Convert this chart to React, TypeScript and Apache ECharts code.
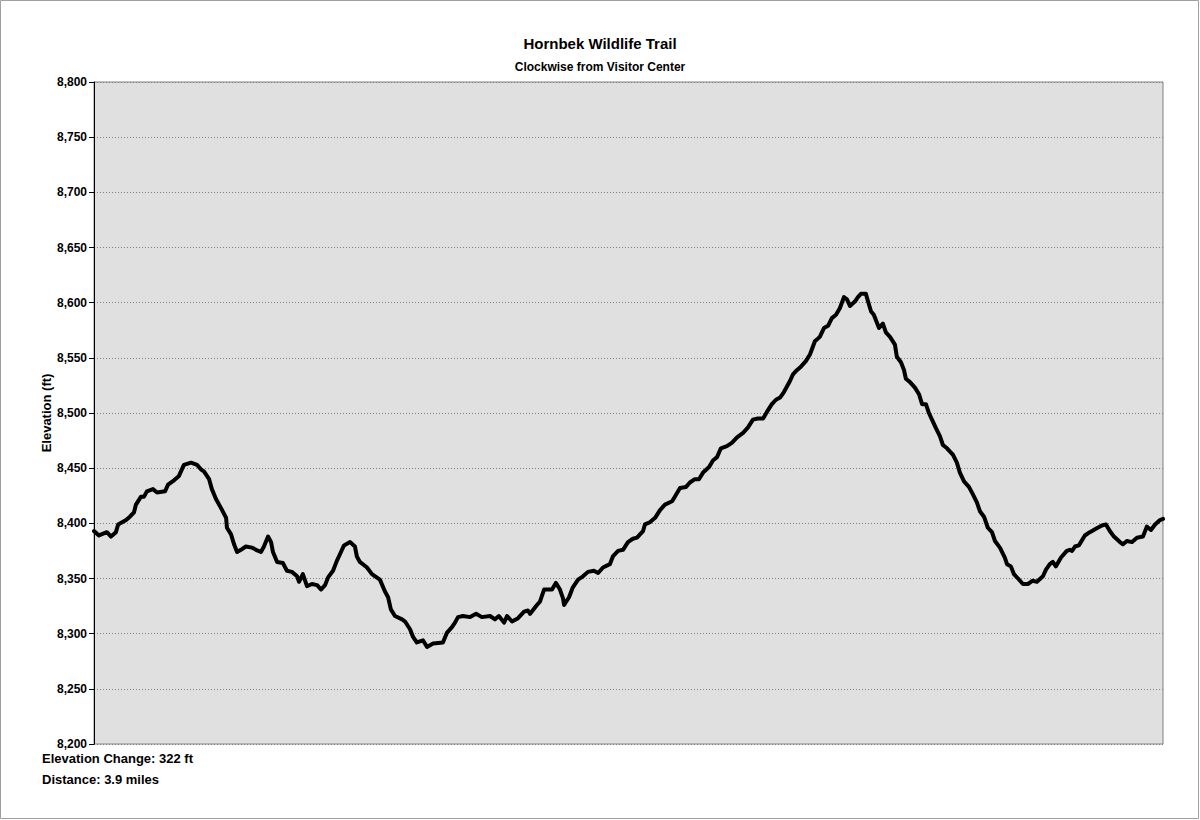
import React, { useEffect, useRef } from "react";
import * as echarts from "echarts";

const titleText = "Hornbek Wildlife Trail";
const subtitleText = "Clockwise from Visitor Center";
const yAxisName = "Elevation (ft)";
const footerLines = ["Elevation Change: 322 ft", "Distance: 3.9 miles"];
const yTicks = [8200, 8250, 8300, 8350, 8400, 8450, 8500, 8550, 8600, 8650, 8700, 8750, 8800];

// distance along trail (miles)
const distance = [
  0.0, 0.018, 0.047, 0.062, 0.08, 0.088, 0.117, 0.131, 0.146, 0.153, 0.171, 0.182, 0.193, 0.215, 0.23, 0.259,
  0.27, 0.292, 0.31, 0.328, 0.354, 0.376, 0.39, 0.401, 0.42, 0.43, 0.445, 0.463, 0.482, 0.485, 0.5, 0.511,
  0.522, 0.536, 0.554, 0.576, 0.591, 0.609, 0.62, 0.635, 0.646, 0.653,
  0.668, 0.689, 0.704, 0.722, 0.741, 0.748, 0.762, 0.777, 0.795, 0.814, 0.828, 0.843, 0.854, 0.872, 0.886,
  0.901, 0.912, 0.934, 0.952, 0.959, 0.97, 0.996, 1.014, 1.043, 1.062, 1.073, 1.083, 1.098, 1.124, 1.135,
  1.153, 1.164, 1.178, 1.2, 1.215, 1.237, 1.273, 1.288, 1.306,
  1.317, 1.328, 1.346, 1.372, 1.394, 1.415, 1.445, 1.463, 1.477, 1.496, 1.507, 1.525, 1.547, 1.569, 1.583,
  1.591, 1.616, 1.627, 1.642, 1.671, 1.685, 1.7, 1.711, 1.715, 1.733, 1.747, 1.766, 1.784, 1.802, 1.824,
  1.839, 1.857, 1.882, 1.893, 1.912, 1.93, 1.948, 1.966, 1.981,
  2.003, 2.01, 2.028, 2.047, 2.065, 2.083, 2.109, 2.119, 2.138, 2.16, 2.174, 2.192, 2.207, 2.222, 2.244,
  2.258, 2.273, 2.287, 2.309, 2.327, 2.346, 2.368, 2.386, 2.404, 2.422, 2.441, 2.455, 2.473, 2.488, 2.503,
  2.517, 2.528, 2.539, 2.55, 2.561, 2.579, 2.597,
  2.612, 2.63, 2.648, 2.663, 2.678, 2.692, 2.707, 2.721, 2.736, 2.747, 2.758, 2.776, 2.787, 2.798, 2.816,
  2.824, 2.835, 2.845, 2.856, 2.864, 2.878, 2.889, 2.904, 2.922, 2.929, 2.944, 2.955, 2.962, 2.977, 2.995,
  3.01, 3.021, 3.035, 3.046, 3.061, 3.072, 3.086, 3.097, 3.112, 3.134, 3.148, 3.159, 3.174, 3.192, 3.207,
  3.221, 3.232, 3.247, 3.261, 3.276, 3.287, 3.305,
  3.323, 3.331, 3.345, 3.356, 3.371, 3.389, 3.407, 3.425, 3.44, 3.462, 3.473, 3.487, 3.498, 3.509, 3.528,
  3.549, 3.56, 3.568, 3.579, 3.593, 3.615, 3.633, 3.655, 3.677, 3.692, 3.706, 3.721, 3.743, 3.754, 3.768,
  3.787, 3.805, 3.827, 3.841, 3.856, 3.871, 3.889, 3.9,
];

// elevation (ft)
const elevation = [
  8393, 8389, 8392, 8388, 8392, 8399, 8403, 8406, 8410, 8417, 8424, 8424, 8429, 8431, 8428, 8429,
  8435, 8439, 8443, 8453, 8455, 8453, 8449, 8447, 8440, 8431, 8422, 8414, 8405, 8396, 8390, 8381,
  8374, 8376, 8379, 8378, 8376, 8374, 8379, 8388, 8383, 8374,
  8365, 8364, 8357, 8356, 8352, 8347, 8354, 8343, 8345, 8344, 8340, 8344, 8351, 8357, 8366,
  8374, 8380, 8383, 8379, 8370, 8365, 8360, 8354, 8349, 8338, 8333, 8322, 8316, 8313, 8311,
  8304, 8297, 8292, 8294, 8288, 8291, 8292, 8301, 8306,
  8310, 8315, 8316, 8315, 8318, 8315, 8316, 8313, 8316, 8310, 8316, 8311, 8314, 8320, 8321,
  8318, 8326, 8329, 8340, 8340, 8346, 8340, 8332, 8326, 8333, 8342, 8349, 8352, 8356, 8357,
  8355, 8360, 8363, 8370, 8375, 8376, 8383, 8386, 8387,
  8393, 8399, 8401, 8405, 8412, 8417, 8420, 8424, 8432, 8433, 8437, 8440, 8440, 8446, 8451,
  8457, 8460, 8468, 8470, 8473, 8478, 8482, 8487, 8494, 8495, 8495, 8501, 8508, 8512, 8514,
  8519, 8524, 8529, 8535, 8538, 8542, 8547,
  8553, 8565, 8569, 8577, 8579, 8586, 8589, 8595, 8605, 8603, 8597, 8601, 8605, 8608, 8608,
  8601, 8592, 8589, 8582, 8577, 8581, 8573, 8569, 8562, 8551, 8546, 8539, 8531, 8528, 8523,
  8517, 8508, 8508, 8500, 8492, 8486, 8479, 8471, 8468, 8462, 8455, 8446, 8438, 8433, 8426,
  8419, 8411, 8406, 8396, 8392, 8384, 8378,
  8369, 8363, 8361, 8354, 8350, 8345, 8345, 8348, 8347, 8352, 8358, 8363, 8365, 8361, 8369,
  8375, 8376, 8375, 8379, 8380, 8389, 8392, 8395, 8398, 8399, 8393, 8388, 8383, 8381, 8384,
  8383, 8387, 8388, 8397, 8394, 8399, 8403, 8404,
];

export default function App() {
  const ref = useRef<HTMLDivElement>(null);

  useEffect(() => {
    document.body.style.margin = "0";
    if (!ref.current) return;
    const chart = echarts.init(ref.current, undefined, { renderer: "svg" });
    const data = distance.map((d, i) => [d, elevation[i]]);
    const font = "Arial, 'Liberation Sans', sans-serif";
    chart.setOption({
      animation: false,
      backgroundColor: "#ffffff",
      grid: {
        left: 94,
        top: 82,
        right: 37,
        bottom: 76,
        show: true,
        backgroundColor: "#e0e0e0",
        borderColor: "#808080",
        borderWidth: 1,
      },
      xAxis: {
        type: "value",
        min: 0,
        max: 3.9,
        axisLabel: { show: false },
        axisTick: { show: false },
        axisLine: { show: false },
        splitLine: { show: false },
      },
      yAxis: {
        type: "value",
        min: yTicks[0],
        max: yTicks[yTicks.length - 1],
        interval: 50,
        axisLine: { show: true, lineStyle: { color: "#000000", width: 1 } },
        axisTick: { show: true, length: 5, lineStyle: { color: "#000000" } },
        axisLabel: {
          margin: 7,
          color: "#000000",
          fontWeight: "bold",
          fontSize: 12,
          fontFamily: font,
          formatter: (v: number) => v.toLocaleString("en-US"),
        },
        splitLine: { show: true, lineStyle: { color: "#808080", type: [1, 2], width: 1 } },
      },
      series: [
        {
          type: "line",
          data,
          showSymbol: false,
          smooth: false,
          lineStyle: { color: "#000000", width: 4, join: "round", cap: "round" },
        },
      ],
      graphic: [
        {
          type: "rect",
          shape: { x: 0.5, y: 0.5, width: 1198, height: 818 },
          style: { fill: "none", stroke: "#a0a0a0", lineWidth: 1 },
          silent: true,
        },
        {
          type: "text",
          x: 600,
          y: 43,
          style: {
            text: titleText,
            fill: "#000",
            font: `bold 15px ${font}`,
            textAlign: "center",
            textVerticalAlign: "middle",
          },
        },
        {
          type: "text",
          x: 600,
          y: 67,
          style: {
            text: subtitleText,
            fill: "#000",
            font: `bold 12px ${font}`,
            textAlign: "center",
            textVerticalAlign: "middle",
          },
        },
        {
          type: "text",
          x: 46,
          y: 413,
          rotation: Math.PI / 2,
          style: {
            text: yAxisName,
            fill: "#000",
            font: `bold 13px ${font}`,
            textAlign: "center",
            textVerticalAlign: "middle",
          },
        },
        {
          type: "text",
          x: 42,
          y: 758,
          style: {
            text: footerLines[0],
            fill: "#000",
            font: `bold 13px ${font}`,
            textAlign: "left",
            textVerticalAlign: "middle",
          },
        },
        {
          type: "text",
          x: 42,
          y: 779,
          style: {
            text: footerLines[1],
            fill: "#000",
            font: `bold 13px ${font}`,
            textAlign: "left",
            textVerticalAlign: "middle",
          },
        },
      ],
    });
    return () => chart.dispose();
  }, []);

  return <div ref={ref} style={{ width: 1200, height: 820 }} />;
}
